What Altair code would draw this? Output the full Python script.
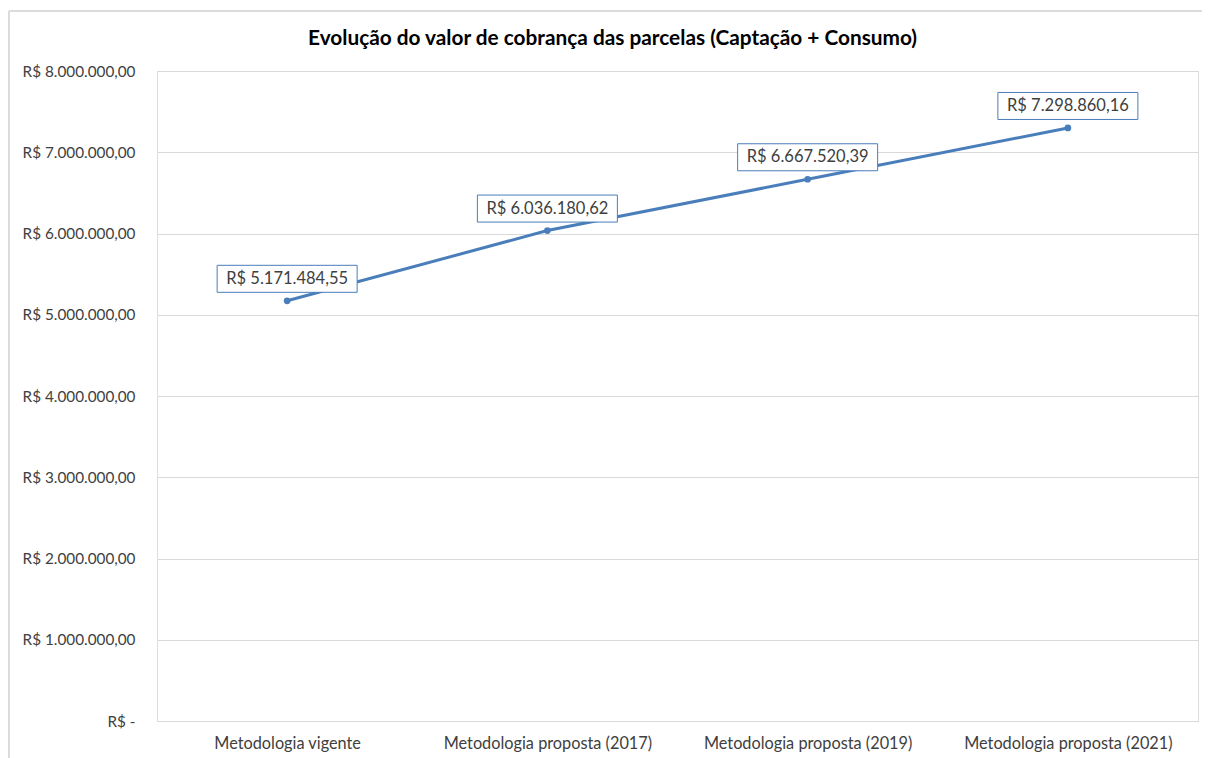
import altair as alt
import pandas as pd

categories = [
    "Metodologia vigente",
    "Metodologia proposta (2017)",
    "Metodologia proposta (2019)",
    "Metodologia proposta (2021)",
]
values = [5171484.55, 6036180.62, 6667520.39, 7298860.16]
value_labels = ["R$ 5.171.484,55", "R$ 6.036.180,62", "R$ 6.667.520,39", "R$ 7.298.860,16"]
y_ticks = [0, 1000000, 2000000, 3000000, 4000000, 5000000, 6000000, 7000000, 8000000]
y_tick_labels = [
    "R$ -", "R$ 1.000.000,00", "R$ 2.000.000,00", "R$ 3.000.000,00", "R$ 4.000.000,00",
    "R$ 5.000.000,00", "R$ 6.000.000,00", "R$ 7.000.000,00", "R$ 8.000.000,00",
]

df = pd.DataFrame({"cat": categories, "val": values, "lab": value_labels})

label_expr = " : ".join(
    f"datum.value == {v} ? '{l}'" for v, l in zip(y_ticks, y_tick_labels)
) + " : ''"

FONT = "Lato"
LINE = "#4a7ebb"
TXT = "#404040"
GRID = "#d9d9d9"

x_enc = alt.X(
    "cat:N", sort=categories, title=None,
    scale=alt.Scale(paddingInner=0, paddingOuter=0),
    axis=alt.Axis(labelAngle=0, ticks=False, domainColor=GRID, labelFont=FONT,
                  labelFontSize=16.3, labelColor=TXT, labelPadding=14, grid=False,
                  labelLimit=0),
)
y_enc = alt.Y(
    "val:Q", title=None,
    scale=alt.Scale(domain=[0, 8000000], nice=False),
    axis=alt.Axis(values=y_ticks, labelExpr=label_expr, ticks=False, domain=False,
                  gridColor=GRID, labelFont=FONT, labelFontSize=15.3, labelColor=TXT,
                  labelPadding=22, labelLimit=0),
)

base = alt.Chart(df)

border = base.mark_rect(fill=None, stroke=GRID, strokeWidth=1).encode(
    x=alt.value(-148), x2=alt.value(1060), y=alt.value(-60), y2=alt.value(720)
)

line = base.mark_line(color=LINE, strokeWidth=3).encode(x=x_enc, y=y_enc)
pts = base.mark_point(filled=True, color=LINE, size=45, opacity=1).encode(x=x_enc, y=y_enc)

box_path = "M-1,-0.193L1,-0.193L1,0.193L-1,0.193Z"
boxes = base.mark_point(shape=box_path, size=19600, filled=True, fill="white",
                        fillOpacity=1, stroke=LINE, strokeWidth=1, opacity=1,
                        yOffset=-22).encode(x=x_enc, y=y_enc)
texts = base.mark_text(font=FONT, fontSize=16.5, color=TXT, yOffset=-22,
                       baseline="middle").encode(x=x_enc, y=y_enc, text="lab:N")

chart = alt.layer(border, line, pts, boxes, texts).properties(
    width=1041, height=650,
    title=alt.TitleParams(
        "Evolução do valor de cobrança das parcelas (Captação + Consumo)",
        font=FONT, fontSize=20.8, fontWeight="bold", color="#000000",
        anchor="middle", dx=-65, offset=-39,
    ),
    autosize=alt.AutoSizeParams(type="none"),
    padding={"left": 149, "top": 63, "right": 4, "bottom": 37},
).configure_view(stroke=None).configure(background="white")

chart.save("out.html", embed_options={"renderer": "svg", "actions": False})
